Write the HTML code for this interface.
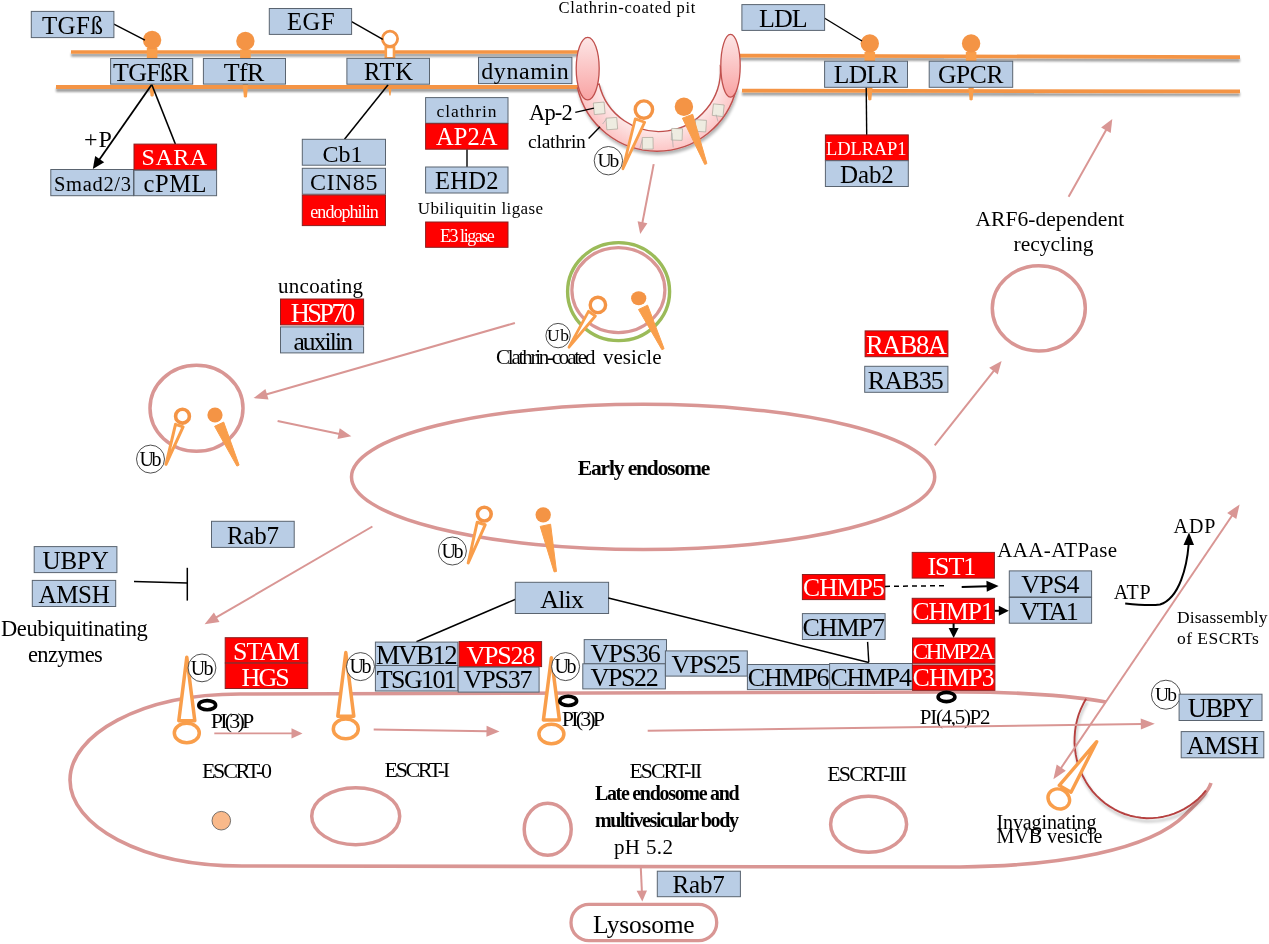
<!DOCTYPE html>
<html><head><meta charset="utf-8"><style>
html,body{margin:0;padding:0;background:#fff;overflow:hidden;}
svg{display:block;will-change:transform;}
text{font-family:"Liberation Serif",serif;}
</style></head><body>
<svg width="1269" height="944" viewBox="0 0 1269 944">
<defs><filter id="sh" x="-5%" y="-50%" width="110%" height="400%"><feGaussianBlur in="SourceAlpha" stdDeviation="1.3"/><feOffset dy="2.8"/><feComponentTransfer><feFuncA type="linear" slope="0.38"/></feComponentTransfer><feMerge><feMergeNode/><feMergeNode in="SourceGraphic"/></feMerge></filter><filter id="sh2" x="-20%" y="-20%" width="140%" height="140%"><feGaussianBlur in="SourceAlpha" stdDeviation="1.5"/><feOffset dx="1" dy="2.5"/><feComponentTransfer><feFuncA type="linear" slope="0.3"/></feComponentTransfer><feMerge><feMergeNode/><feMergeNode in="SourceGraphic"/></feMerge></filter><linearGradient id="pg" x1="0" y1="0" x2="0" y2="1"><stop offset="0" stop-color="#fde6e6"/><stop offset="1" stop-color="#f9a3a3"/></linearGradient><radialGradient id="bg" cx="658" cy="70" r="81" gradientUnits="userSpaceOnUse"><stop offset="0.75" stop-color="#fde8e8"/><stop offset="1" stop-color="#fcc6c6"/></radialGradient></defs>
<g filter="url(#sh)">
<line x1="71.0" y1="52.0" x2="582.0" y2="52.0" stroke="#f49445" stroke-width="3.7"/>
<line x1="56.0" y1="87.0" x2="582.0" y2="87.0" stroke="#f49445" stroke-width="3.8"/>
<line x1="738.0" y1="55.6" x2="1240.0" y2="57.2" stroke="#f49445" stroke-width="3.7"/>
<line x1="742.0" y1="90.6" x2="1240.0" y2="91.4" stroke="#f49445" stroke-width="3.8"/>
</g>
<rect x="146.8" y="48.0" width="10.6" height="10.3" fill="#f99e4b"/>
<circle cx="152.1" cy="39.9" r="9.2" fill="#f49445"/>
<path d="M 149.4,84.3 L 154.8,84.3 L 153.7,95.4 Q 152.1,97.8 150.5,95.4 Z" fill="#f99e4b"/>
<rect x="240.1" y="49.5" width="10.6" height="8.8" fill="#f99e4b"/>
<circle cx="245.4" cy="41.0" r="9.2" fill="#f49445"/>
<path d="M 242.7,84.3 L 248.1,84.3 L 247.0,96.4 Q 245.4,98.8 243.8,96.4 Z" fill="#f99e4b"/>
<rect x="864.5" y="52.0" width="10.6" height="9.4" fill="#f99e4b"/>
<circle cx="869.8" cy="43.4" r="9.2" fill="#f49445"/>
<path d="M 867.1,87.4 L 872.5,87.4 L 871.4,99.2 Q 869.8,101.6 868.2,99.2 Z" fill="#f99e4b"/>
<rect x="965.8" y="52.0" width="10.6" height="9.4" fill="#f99e4b"/>
<circle cx="971.1" cy="43.4" r="9.2" fill="#f49445"/>
<path d="M 968.4,87.4 L 973.8,87.4 L 972.7,99.2 Q 971.1,101.6 969.5,99.2 Z" fill="#f99e4b"/>
<rect x="385.8" y="47" width="8.2" height="11.3" fill="#fff" stroke="#f99e4b" stroke-width="2.6"/>
<circle cx="390" cy="38.8" r="7.6" fill="#fff" stroke="#f49445" stroke-width="2.8"/>
<polygon points="388.6,89 391.4,89 390.6,95.5 389.4,95.5" fill="#f99e4b"/>
<line x1="113.9" y1="24.1" x2="144.9" y2="40.2" stroke="#000" stroke-width="1.4"/>
<line x1="351.6" y1="21.7" x2="382.8" y2="39.3" stroke="#000" stroke-width="1.4"/>
<line x1="824.3" y1="18.0" x2="862.0" y2="41.0" stroke="#000" stroke-width="1.4"/>
<line x1="151.8" y1="84.6" x2="175.4" y2="144.1" stroke="#000" stroke-width="1.5"/>
<line x1="151.8" y1="84.6" x2="99.1" y2="160.0" stroke="#000" stroke-width="1.8"/>
<polygon points="92.8,169.0 95.2,156.0 104.2,162.3" fill="#000"/>
<line x1="388.1" y1="84.7" x2="344.5" y2="139.3" stroke="#000" stroke-width="1.5"/>
<line x1="467.0" y1="149.2" x2="467.0" y2="167.0" stroke="#000" stroke-width="1.4"/>
<line x1="866.2" y1="87.3" x2="866.7" y2="135.0" stroke="#000" stroke-width="1.4"/>
<rect x="31.3" y="11.4" width="82.6" height="26.2" fill="#b9cde5" stroke="#5a6470" stroke-width="1"/>
<text x="41.9" y="33.8" font-size="25" fill="#000" textLength="61.0" lengthAdjust="spacing">TGFß</text>
<rect x="269.3" y="8.5" width="82.3" height="25.9" fill="#b9cde5" stroke="#5a6470" stroke-width="1"/>
<text x="286.9" y="30.3" font-size="24.5" fill="#000" textLength="47.7" lengthAdjust="spacing">EGF</text>
<rect x="110.6" y="58.5" width="82.1" height="25.6" fill="#b9cde5" stroke="#5a6470" stroke-width="1"/>
<text x="113.1" y="80.8" font-size="26" fill="#000" textLength="76.3" lengthAdjust="spacing">TGFßR</text>
<rect x="203.4" y="58.5" width="82.1" height="25.6" fill="#b9cde5" stroke="#5a6470" stroke-width="1"/>
<text x="223.7" y="80.8" font-size="26" fill="#000" textLength="40.7" lengthAdjust="spacing">TfR</text>
<rect x="346.9" y="58.3" width="82.6" height="25.9" fill="#b9cde5" stroke="#5a6470" stroke-width="1"/>
<text x="363.9" y="80.4" font-size="24.5" fill="#000" textLength="49.1" lengthAdjust="spacing">RTK</text>
<rect x="478.5" y="57.3" width="93.4" height="26.3" fill="#b9cde5" stroke="#5a6470" stroke-width="1"/>
<text x="481.2" y="79.0" font-size="24" fill="#000" textLength="87.6" lengthAdjust="spacing">dynamin</text>
<rect x="741.9" y="4.6" width="82.7" height="25.8" fill="#b9cde5" stroke="#5a6470" stroke-width="1"/>
<text x="759.0" y="27.4" font-size="26" fill="#000" textLength="48.7" lengthAdjust="spacing">LDL</text>
<rect x="824.6" y="61.2" width="82.9" height="26.1" fill="#b9cde5" stroke="#5a6470" stroke-width="1"/>
<text x="833.7" y="83.4" font-size="25.5" fill="#000" textLength="64.7" lengthAdjust="spacing">LDLR</text>
<rect x="929.2" y="61.2" width="83.5" height="26.1" fill="#b9cde5" stroke="#5a6470" stroke-width="1"/>
<text x="937.9" y="83.4" font-size="25.5" fill="#000" textLength="65.6" lengthAdjust="spacing">GPCR</text>
<rect x="50.8" y="169.5" width="82.7" height="26.2" fill="#b9cde5" stroke="#5a6470" stroke-width="1"/>
<text x="54.0" y="190.6" font-size="20.5" fill="#000" textLength="77.0" lengthAdjust="spacing">Smad2/3</text>
<rect x="134.0" y="144.1" width="82.6" height="25.7" fill="#ff0000" stroke="#8a2020" stroke-width="1"/>
<text x="141.6" y="165.4" font-size="24" fill="#fff" textLength="65.6" lengthAdjust="spacing">SARA</text>
<rect x="134.0" y="170.3" width="82.6" height="25.4" fill="#b9cde5" stroke="#5a6470" stroke-width="1"/>
<text x="143.6" y="191.9" font-size="24.5" fill="#000" textLength="62.8" lengthAdjust="spacing">cPML</text>
<rect x="302.3" y="139.3" width="83.2" height="25.9" fill="#b9cde5" stroke="#5a6470" stroke-width="1"/>
<text x="322.6" y="161.6" font-size="24" fill="#000" textLength="39.9" lengthAdjust="spacing">Cb1</text>
<rect x="302.3" y="168.3" width="83.2" height="25.9" fill="#b9cde5" stroke="#5a6470" stroke-width="1"/>
<text x="309.9" y="189.9" font-size="24" fill="#000" textLength="67.5" lengthAdjust="spacing">CIN85</text>
<rect x="302.3" y="195.1" width="83.2" height="30.5" fill="#ff0000" stroke="#8a2020" stroke-width="1"/>
<text x="310.3" y="217.8" font-size="18" fill="#fff" textLength="68.5" lengthAdjust="spacing">endophilin</text>
<rect x="425.6" y="97.6" width="82.4" height="25.6" fill="#b9cde5" stroke="#5a6470" stroke-width="1"/>
<text x="436.5" y="117.2" font-size="17.5" fill="#000" textLength="60.1" lengthAdjust="spacing">clathrin</text>
<rect x="425.6" y="123.7" width="82.4" height="25.5" fill="#ff0000" stroke="#8a2020" stroke-width="1"/>
<text x="435.9" y="144.9" font-size="24.5" fill="#fff" textLength="61.6" lengthAdjust="spacing">AP2A</text>
<rect x="425.6" y="167.0" width="82.4" height="26.0" fill="#b9cde5" stroke="#5a6470" stroke-width="1"/>
<text x="435.0" y="188.8" font-size="24.5" fill="#000" textLength="63.4" lengthAdjust="spacing">EHD2</text>
<rect x="425.6" y="222.0" width="82.4" height="25.3" fill="#ff0000" stroke="#8a2020" stroke-width="1"/>
<text x="440.0" y="242.3" font-size="18" fill="#fff" textLength="54.8" lengthAdjust="spacing">E3 ligase</text>
<rect x="825.4" y="134.9" width="82.9" height="25.8" fill="#ff0000" stroke="#8a2020" stroke-width="1"/>
<text x="826.1" y="154.8" font-size="18.5" fill="#fff" textLength="80.4" lengthAdjust="spacing">LDLRAP1</text>
<rect x="825.4" y="160.7" width="82.9" height="25.8" fill="#b9cde5" stroke="#5a6470" stroke-width="1"/>
<text x="840.1" y="182.7" font-size="25" fill="#000" textLength="53.6" lengthAdjust="spacing">Dab2</text>
<text x="558.5" y="13.3" font-size="16.5" fill="#000" textLength="136.9" lengthAdjust="spacing">Clathrin-coated pit</text>
<text x="417.7" y="214.2" font-size="17" fill="#000" textLength="125.4" lengthAdjust="spacing">Ubiliquitin ligase</text>
<text x="83.9" y="147.0" font-size="24" fill="#000" textLength="27.9" lengthAdjust="spacing">+P</text>
<path filter="url(#sh2)" d="M 577.5,88 A 81.6 81.6 0 0 0 736.5,88 L 720.4,66.7 A 61.5 61.5 0 0 1 599.1,84 Z" fill="url(#bg)" stroke="#c0504d" stroke-width="1.4"/>
<rect x="593.8" y="102.5" width="10.8" height="11.6" fill="#eeece1" stroke="#aaa69a" stroke-width="0.7" transform="rotate(-5.2 599.2 108.3)"/>
<rect x="606.4" y="117.8" width="10.8" height="11.6" fill="#eeece1" stroke="#aaa69a" stroke-width="0.7" transform="rotate(-4.5 611.8 123.6)"/>
<rect x="642.3" y="137.5" width="10.8" height="11.6" fill="#eeece1" stroke="#aaa69a" stroke-width="0.7" transform="rotate(-0.8 647.7 143.3)"/>
<rect x="671.5" y="128.6" width="10.8" height="11.6" fill="#eeece1" stroke="#aaa69a" stroke-width="0.7" transform="rotate(2.2 676.9 134.4)"/>
<rect x="695.3" y="120.0" width="10.8" height="11.6" fill="#eeece1" stroke="#aaa69a" stroke-width="0.7" transform="rotate(3.8 700.7 125.8)"/>
<rect x="712.8" y="104.4" width="10.8" height="11.6" fill="#eeece1" stroke="#aaa69a" stroke-width="0.7" transform="rotate(6.0 718.2 110.2)"/>
<line x1="602.6" y1="124" x2="606.4" y2="119" stroke="#a8a8a8" stroke-width="0.7"/>
<line x1="639.8" y1="148.6" x2="642.3" y2="139.5" stroke="#a8a8a8" stroke-width="0.7"/>
<line x1="672" y1="132.9" x2="673.2" y2="147.4" stroke="#a8a8a8" stroke-width="0.7"/>
<line x1="716.1" y1="114.6" x2="718" y2="121.5" stroke="#a8a8a8" stroke-width="0.7"/>
<ellipse cx="587.7" cy="68.6" rx="11.5" ry="31.3" fill="url(#pg)" stroke="#c0504d" stroke-width="1.3"/>
<ellipse cx="730.5" cy="65.8" rx="9.7" ry="31.4" fill="url(#pg)" stroke="#c0504d" stroke-width="1.3"/>
<text x="529.1" y="120.0" font-size="22.5" fill="#000" textLength="43.6" lengthAdjust="spacing">Ap-2</text>
<text x="528.1" y="147.7" font-size="19.5" fill="#000" textLength="57.7" lengthAdjust="spacing">clathrin</text>
<line x1="575.3" y1="112.4" x2="593.9" y2="108.1" stroke="#000" stroke-width="1.4"/>
<line x1="588.6" y1="138.6" x2="600.0" y2="126.7" stroke="#000" stroke-width="1.4"/>
<polygon points="635.3,118.9 644.7,122.2 622.9,168.7" fill="#fff" stroke="#f99e4b" stroke-width="2.8" stroke-linejoin="round"/>
<circle cx="643.9" cy="109.6" r="8.7" fill="#fff" stroke="#f49445" stroke-width="3.4"/>
<polygon points="682.4,118.2 692.7,114.3 706.9,163.6 704.7,164.4" fill="#f99e4b" stroke="#f99e4b" stroke-width="1" stroke-linejoin="round"/>
<ellipse cx="683.9" cy="106.7" rx="9.2" ry="9.2" fill="#f49445"/>
<circle cx="608.4" cy="160.7" r="14.2" fill="#fff" stroke="#222" stroke-width="0.8"/>
<text x="597.4" y="167.1" font-size="19.5" fill="#000" textLength="21.9" lengthAdjust="spacing">Ub</text>
<line x1="653.7" y1="164.1" x2="642.3" y2="223.2" stroke="#d99694" stroke-width="2"/>
<polygon points="640.2,234.0 637.6,221.3 647.4,223.2" fill="#d99694"/>
<ellipse cx="618.6" cy="291.6" rx="51" ry="49" fill="none" stroke="#9bbb59" stroke-width="3.4"/>
<ellipse cx="618.4" cy="290.1" rx="46.5" ry="42.5" fill="none" stroke="#d99694" stroke-width="3.2"/>
<polygon points="588.5,311.3 595.4,316.0 569.0,347.2" fill="#fff" stroke="#f99e4b" stroke-width="2.8" stroke-linejoin="round"/>
<circle cx="597.9" cy="304.9" r="7.7" fill="#fff" stroke="#f49445" stroke-width="3.4"/>
<polygon points="638.5,309.5 647.6,305.2 664.1,348.7 661.9,349.7" fill="#f99e4b" stroke="#f99e4b" stroke-width="1" stroke-linejoin="round"/>
<ellipse cx="638.7" cy="298.2" rx="7.6" ry="7" fill="#f49445"/>
<circle cx="558.1" cy="335.6" r="12.2" fill="#fff" stroke="#222" stroke-width="0.8"/>
<text x="547.1" y="341.4" font-size="17.5" fill="#000" textLength="22.0" lengthAdjust="spacing">Ub</text>
<text x="496.1" y="363.7" font-size="21" fill="#000" textLength="99.3" lengthAdjust="spacing">Clathrin-coated</text>
<text x="602.9" y="363.7" font-size="21" fill="#000" textLength="58.7" lengthAdjust="spacing">vesicle</text>
<text x="278.0" y="293.1" font-size="21" fill="#000" textLength="85.1" lengthAdjust="spacing">uncoating</text>
<rect x="280.5" y="299.0" width="83.1" height="25.9" fill="#ff0000" stroke="#8a2020" stroke-width="1"/>
<text x="290.7" y="322.3" font-size="26.5" fill="#fff" textLength="64.6" lengthAdjust="spacing">HSP70</text>
<rect x="280.5" y="326.9" width="83.1" height="26.0" fill="#b9cde5" stroke="#5a6470" stroke-width="1"/>
<text x="293.4" y="349.6" font-size="25.5" fill="#000" textLength="59.6" lengthAdjust="spacing">auxilin</text>
<line x1="514.9" y1="323.0" x2="266.0" y2="394.5" stroke="#d99694" stroke-width="2"/>
<polygon points="253.5,398.1 265.4,388.9 268.5,399.5" fill="#d99694"/>
<ellipse cx="196.5" cy="408.3" rx="46.5" ry="43" fill="none" stroke="#d99694" stroke-width="3.5"/>
<polygon points="175.5,424.3 183.1,426.9 166.0,464.3" fill="#fff" stroke="#f99e4b" stroke-width="3" stroke-linejoin="round"/>
<circle cx="182.5" cy="416.2" r="6.9" fill="#fff" stroke="#f49445" stroke-width="3.6"/>
<polygon points="214.6,426.3 223.7,422.1 239.1,465.1 236.9,466.1" fill="#f99e4b" stroke="#f99e4b" stroke-width="1" stroke-linejoin="round"/>
<ellipse cx="215.0" cy="415.0" rx="7.6" ry="7.6" fill="#f49445"/>
<circle cx="150.5" cy="459.1" r="14" fill="#fff" stroke="#222" stroke-width="0.8"/>
<text x="139.5" y="465.7" font-size="20" fill="#000" textLength="22.0" lengthAdjust="spacing">Ub</text>
<line x1="277.6" y1="421.0" x2="339.6" y2="433.9" stroke="#d99694" stroke-width="2"/>
<polygon points="351.3,436.3 337.5,439.0 339.7,428.3" fill="#d99694"/>
<ellipse cx="643.1" cy="476.9" rx="291.6" ry="72.6" fill="none" stroke="#d99694" stroke-width="3.5"/>
<text x="577.8" y="474.7" font-size="21.5" fill="#000" textLength="132.6" lengthAdjust="spacing" font-weight="bold">Early endosome</text>
<polygon points="477.2,522.2 485.2,524.8 468.2,563.0" fill="#fff" stroke="#f99e4b" stroke-width="3" stroke-linejoin="round"/>
<circle cx="484.3" cy="514.1" r="6.9" fill="#fff" stroke="#f49445" stroke-width="3.6"/>
<polygon points="540.2,526.4 550.6,524.2 556.5,571.5 554.1,571.9" fill="#f99e4b" stroke="#f99e4b" stroke-width="1" stroke-linejoin="round"/>
<ellipse cx="543.2" cy="514.8" rx="7.7" ry="7.6" fill="#f49445"/>
<circle cx="452.4" cy="551.0" r="14" fill="#fff" stroke="#222" stroke-width="0.8"/>
<text x="441.4" y="557.6" font-size="20" fill="#000" textLength="22.0" lengthAdjust="spacing">Ub</text>
<text x="975.5" y="225.6" font-size="21.5" fill="#000" textLength="148.7" lengthAdjust="spacing">ARF6-dependent</text>
<text x="1013.5" y="250.9" font-size="21.5" fill="#000" textLength="80.0" lengthAdjust="spacing">recycling</text>
<line x1="1068.6" y1="196.7" x2="1106.4" y2="129.5" stroke="#d99694" stroke-width="2"/>
<polygon points="1112.3,119.0 1110.7,133.0 1101.1,127.6" fill="#d99694"/>
<ellipse cx="1038.8" cy="308.3" rx="46.5" ry="42.6" fill="none" stroke="#d99694" stroke-width="3.5"/>
<rect x="865.1" y="330.9" width="82.8" height="25.8" fill="#ff0000" stroke="#8a2020" stroke-width="1"/>
<text x="865.9" y="353.6" font-size="26.5" fill="#fff" textLength="81.0" lengthAdjust="spacing">RAB8A</text>
<rect x="864.7" y="366.3" width="83.2" height="26.0" fill="#b9cde5" stroke="#5a6470" stroke-width="1"/>
<text x="867.8" y="388.6" font-size="26" fill="#000" textLength="76.0" lengthAdjust="spacing">RAB35</text>
<line x1="934.7" y1="445.4" x2="994.2" y2="370.3" stroke="#d99694" stroke-width="2"/>
<polygon points="1001.6,360.9 997.8,374.5 989.2,367.7" fill="#d99694"/>
<rect x="211.5" y="521.3" width="82.7" height="26.1" fill="#b9cde5" stroke="#5a6470" stroke-width="1"/>
<text x="226.9" y="544.3" font-size="25" fill="#000" textLength="52.0" lengthAdjust="spacing">Rab7</text>
<rect x="34.2" y="546.6" width="82.7" height="26.0" fill="#b9cde5" stroke="#5a6470" stroke-width="1"/>
<text x="42.5" y="569.1" font-size="25" fill="#000" textLength="66.2" lengthAdjust="spacing">UBPY</text>
<rect x="32.3" y="580.4" width="83.4" height="26.1" fill="#b9cde5" stroke="#5a6470" stroke-width="1"/>
<text x="38.4" y="602.7" font-size="25" fill="#000" textLength="71.4" lengthAdjust="spacing">AMSH</text>
<line x1="134.0" y1="581.5" x2="187.3" y2="583.0" stroke="#000" stroke-width="1.5"/>
<line x1="187.3" y1="567.8" x2="187.3" y2="600.6" stroke="#000" stroke-width="1.5"/>
<text x="1.0" y="635.6" font-size="22.5" fill="#000" textLength="146.8" lengthAdjust="spacing">Deubiquitinating</text>
<text x="28.0" y="661.8" font-size="22.5" fill="#000" textLength="74.8" lengthAdjust="spacing">enzymes</text>
<line x1="372.4" y1="526.5" x2="215.8" y2="617.7" stroke="#d99694" stroke-width="2"/>
<polygon points="204.6,624.2 213.9,612.4 219.5,621.9" fill="#d99694"/>
<path d="M 1106,702 C 1060,694 1000,692 960,692 L 240,694 C 140,694 70,735 70,780 C 70,825 140,866 242,866 L 960,867 C 1060,866 1150,850 1185,815 C 1200,800 1208,792 1211,783" fill="none" stroke="#d99694" stroke-width="3.6"/>
<polyline points="1086.1,698.8 1083.3,703.8 1080.8,709.1 1078.7,714.5 1077.1,720.1 1075.8,725.8 1075.0,731.6 1074.6,737.4 1074.5,743.2 1075.0,749.1 1075.8,754.9 1077.0,760.6 1078.7,766.1 1080.7,771.6 1083.2,776.8 1086.0,781.9 1089.1,786.7 1092.6,791.3 1096.5,795.6 1100.6,799.5 1105.0,803.2 1109.6,806.4 1114.5,809.3 1119.5,811.9 1124.7,814.0 1130.1,815.7 1135.6,816.9 1141.1,817.8 1146.7,818.2 1152.3,818.1 1157.9,817.6 1163.4,816.7 1168.8,815.4 1174.2,813.6 1179.4,811.4 1184.4,808.9 1189.2,805.9 1193.8,802.5 1198.2,798.9 1202.2,794.8 1206.0,790.5" fill="none" stroke="#b5413f" stroke-width="1.9" stroke-linejoin="round" filter="url(#sh2)"/>
<rect x="225.2" y="637.7" width="82.5" height="25.1" fill="#ff0000" stroke="#8a2020" stroke-width="1"/>
<text x="233.1" y="659.8" font-size="26" fill="#fff" textLength="66.7" lengthAdjust="spacing">STAM</text>
<rect x="225.2" y="663.2" width="82.5" height="25.3" fill="#ff0000" stroke="#8a2020" stroke-width="1"/>
<text x="241.6" y="685.5" font-size="26" fill="#fff" textLength="48.2" lengthAdjust="spacing">HGS</text>
<polygon points="186.8,657.3 178.8,720.8 194.8,720.8" fill="#fff" stroke="#f99e4b" stroke-width="3.5" stroke-linejoin="round"/>
<ellipse cx="186.8" cy="733.0" rx="12.5" ry="9.8" fill="#fff" stroke="#f99e4b" stroke-width="3.5"/>
<circle cx="202.0" cy="667.9" r="13.9" fill="#fff" stroke="#222" stroke-width="0.8"/>
<text x="190.7" y="674.5" font-size="20" fill="#000" textLength="22.7" lengthAdjust="spacing">Ub</text>
<ellipse cx="207.2" cy="705.2" rx="8.4" ry="4.6" fill="none" stroke="#000" stroke-width="3.6"/>
<text x="210.8" y="727.6" font-size="22" fill="#000" textLength="43.5" lengthAdjust="spacing">PI(3)P</text>
<line x1="214.3" y1="733.4" x2="292.5" y2="733.4" stroke="#d99694" stroke-width="1.9"/>
<polygon points="302.5,733.4 291.5,738.6 291.5,728.2" fill="#d99694"/>
<text x="201.9" y="777.7" font-size="22" fill="#000" textLength="70.1" lengthAdjust="spacing">ESCRT-0</text>
<circle cx="221.3" cy="820.7" r="9.3" fill="#f9b98a" stroke="#555" stroke-width="0.8"/>
<ellipse cx="355.7" cy="816.2" rx="44" ry="28.5" fill="none" stroke="#d99694" stroke-width="3.5"/>
<line x1="515.6" y1="599.2" x2="416.4" y2="641.7" stroke="#000" stroke-width="1.5"/>
<rect x="515.3" y="582.3" width="93.3" height="31.2" fill="#b9cde5" stroke="#5a6470" stroke-width="1"/>
<text x="540.2" y="607.8" font-size="26" fill="#000" textLength="43.8" lengthAdjust="spacing">Alix</text>
<polygon points="345.8,652.6 337.8,716.2 353.8,716.2" fill="#fff" stroke="#f99e4b" stroke-width="3.5" stroke-linejoin="round"/>
<ellipse cx="345.8" cy="728.9" rx="12.5" ry="9.8" fill="#fff" stroke="#f99e4b" stroke-width="3.5"/>
<circle cx="360.5" cy="666.6" r="14" fill="#fff" stroke="#222" stroke-width="0.8"/>
<text x="349.5" y="673.2" font-size="20" fill="#000" textLength="22.0" lengthAdjust="spacing">Ub</text>
<rect x="375.4" y="642.1" width="82.5" height="23.4" fill="#b9cde5" stroke="#5a6470" stroke-width="1"/>
<text x="376.0" y="664.0" font-size="26.8" fill="#000" textLength="81.7" lengthAdjust="spacing">MVB12</text>
<rect x="375.4" y="665.5" width="82.5" height="25.5" fill="#b9cde5" stroke="#5a6470" stroke-width="1"/>
<text x="376.8" y="688.2" font-size="26" fill="#000" textLength="80.0" lengthAdjust="spacing">TSG101</text>
<rect x="459.1" y="641.6" width="82.5" height="25.0" fill="#ff0000" stroke="#8a2020" stroke-width="1"/>
<text x="466.5" y="664.0" font-size="26" fill="#fff" textLength="68.7" lengthAdjust="spacing">VPS28</text>
<rect x="458.2" y="667.2" width="80.9" height="24.9" fill="#b9cde5" stroke="#5a6470" stroke-width="1"/>
<text x="463.6" y="688.2" font-size="26" fill="#000" textLength="68.8" lengthAdjust="spacing">VPS37</text>
<line x1="373.7" y1="729.6" x2="487.5" y2="731.2" stroke="#d99694" stroke-width="2"/>
<polygon points="499.5,731.4 486.4,736.7 486.6,725.7" fill="#d99694"/>
<text x="384.6" y="777.2" font-size="22" fill="#000" textLength="65.4" lengthAdjust="spacing">ESCRT-I</text>
<polygon points="551.4,657.7 543.4,720.0 559.4,720.0" fill="#fff" stroke="#f99e4b" stroke-width="3.5" stroke-linejoin="round"/>
<ellipse cx="551.4" cy="734.0" rx="12.5" ry="9.8" fill="#fff" stroke="#f99e4b" stroke-width="3.5"/>
<circle cx="565.6" cy="666.6" r="14" fill="#fff" stroke="#222" stroke-width="0.8"/>
<text x="554.6" y="673.2" font-size="20" fill="#000" textLength="22.0" lengthAdjust="spacing">Ub</text>
<ellipse cx="568.2" cy="700.9" rx="8.4" ry="4.6" fill="none" stroke="#000" stroke-width="3.6"/>
<text x="561.8" y="725.6" font-size="22" fill="#000" textLength="43.2" lengthAdjust="spacing">PI(3)P</text>
<rect x="584.2" y="639.6" width="82.3" height="24.2" fill="#b9cde5" stroke="#5a6470" stroke-width="1"/>
<text x="590.6" y="661.5" font-size="26" fill="#000" textLength="70.2" lengthAdjust="spacing">VPS36</text>
<rect x="582.8" y="663.8" width="82.6" height="25.1" fill="#b9cde5" stroke="#5a6470" stroke-width="1"/>
<text x="590.6" y="685.6" font-size="26" fill="#000" textLength="68.1" lengthAdjust="spacing">VPS22</text>
<rect x="665.4" y="650.9" width="81.9" height="25.2" fill="#b9cde5" stroke="#5a6470" stroke-width="1"/>
<text x="671.5" y="672.6" font-size="26" fill="#000" textLength="69.5" lengthAdjust="spacing">VPS25</text>
<rect x="747.4" y="664.5" width="82.2" height="25.1" fill="#b9cde5" stroke="#5a6470" stroke-width="1"/>
<text x="747.8" y="685.8" font-size="26" fill="#000" textLength="81.8" lengthAdjust="spacing">CHMP6</text>
<rect x="829.6" y="663.5" width="82.7" height="25.9" fill="#b9cde5" stroke="#5a6470" stroke-width="1"/>
<text x="830.5" y="685.8" font-size="26" fill="#000" textLength="81.4" lengthAdjust="spacing">CHMP4</text>
<line x1="608.3" y1="598.1" x2="868.8" y2="662.4" stroke="#000" stroke-width="1.5"/>
<line x1="867.6" y1="641.9" x2="868.8" y2="662.4" stroke="#000" stroke-width="1.4"/>
<rect x="802.4" y="613.6" width="82.7" height="25.9" fill="#b9cde5" stroke="#5a6470" stroke-width="1"/>
<text x="802.6" y="635.5" font-size="26" fill="#000" textLength="82.3" lengthAdjust="spacing">CHMP7</text>
<text x="629.4" y="777.7" font-size="21.7" fill="#000" textLength="72.9" lengthAdjust="spacing">ESCRT-II</text>
<text x="594.9" y="800.4" font-size="20" fill="#000" textLength="144.7" lengthAdjust="spacing" font-weight="bold">Late endosome and</text>
<text x="594.9" y="826.6" font-size="20" fill="#000" textLength="144.0" lengthAdjust="spacing" font-weight="bold">multivesicular body</text>
<text x="614.0" y="853.8" font-size="21" fill="#000" textLength="58.9" lengthAdjust="spacing">pH 5.2</text>
<ellipse cx="547.7" cy="829.3" rx="23.5" ry="26" fill="none" stroke="#d99694" stroke-width="3.5"/>
<rect x="802.4" y="574.5" width="82.5" height="25.1" fill="#ff0000" stroke="#8a2020" stroke-width="1"/>
<text x="803.0" y="596.3" font-size="25.5" fill="#fff" textLength="81.8" lengthAdjust="spacing">CHMP5</text>
<line x1="885" y1="586.4" x2="948" y2="585.6" stroke="#000" stroke-width="1.5" stroke-dasharray="5,4"/>
<line x1="961.7" y1="587.0" x2="987.6" y2="586.2" stroke="#000" stroke-width="2"/>
<polygon points="998.6,585.9 986.8,591.8 986.4,580.8" fill="#000"/>
<rect x="912.2" y="552.4" width="82.2" height="25.7" fill="#ff0000" stroke="#8a2020" stroke-width="1"/>
<text x="927.4" y="575.3" font-size="26" fill="#fff" textLength="48.8" lengthAdjust="spacing">IST1</text>
<text x="997.3" y="556.6" font-size="21" fill="#000" textLength="119.8" lengthAdjust="spacing">AAA-ATPase</text>
<rect x="1009.3" y="570.9" width="82.3" height="26.0" fill="#b9cde5" stroke="#5a6470" stroke-width="1"/>
<text x="1021.3" y="593.1" font-size="26" fill="#000" textLength="58.3" lengthAdjust="spacing">VPS4</text>
<rect x="1009.3" y="597.5" width="82.3" height="25.7" fill="#b9cde5" stroke="#5a6470" stroke-width="1"/>
<text x="1019.7" y="619.9" font-size="26" fill="#000" textLength="59.1" lengthAdjust="spacing">VTA1</text>
<rect x="912.2" y="598.3" width="82.2" height="25.3" fill="#ff0000" stroke="#8a2020" stroke-width="1"/>
<text x="912.4" y="620.3" font-size="25.5" fill="#fff" textLength="81.3" lengthAdjust="spacing">CHMP1</text>
<line x1="994.8" y1="610.8" x2="999.8" y2="610.8" stroke="#000" stroke-width="2"/>
<polygon points="1008.8,610.8 998.8,615.8 998.8,605.8" fill="#000"/>
<line x1="953.6" y1="623.5" x2="953.6" y2="629.0" stroke="#000" stroke-width="2"/>
<polygon points="953.6,638.0 948.6,628.0 958.6,628.0" fill="#000"/>
<rect x="912.5" y="638.0" width="82.4" height="25.3" fill="#ff0000" stroke="#8a2020" stroke-width="1"/>
<text x="912.7" y="659.2" font-size="23" fill="#fff" textLength="82.0" lengthAdjust="spacing">CHMP2A</text>
<rect x="912.5" y="665.0" width="82.4" height="25.3" fill="#ff0000" stroke="#8a2020" stroke-width="1"/>
<text x="912.7" y="685.7" font-size="25.5" fill="#fff" textLength="81.8" lengthAdjust="spacing">CHMP3</text>
<ellipse cx="946.5" cy="697.0" rx="8.4" ry="4.6" fill="none" stroke="#000" stroke-width="3.6"/>
<text x="919.8" y="723.7" font-size="21" fill="#000" textLength="70.7" lengthAdjust="spacing">PI(4,5)P2</text>
<text x="827.2" y="780.6" font-size="22" fill="#000" textLength="80.0" lengthAdjust="spacing">ESCRT-III</text>
<ellipse cx="868.6" cy="824.3" rx="38" ry="28" fill="none" stroke="#d99694" stroke-width="3.5"/>
<line x1="647.7" y1="730.8" x2="1141.8" y2="724.0" stroke="#d99694" stroke-width="2"/>
<polygon points="1154.8,723.8 1140.9,729.5 1140.7,718.5" fill="#d99694"/>
<text x="1173.6" y="533.1" font-size="20" fill="#000" textLength="41.8" lengthAdjust="spacing">ADP</text>
<text x="1113.8" y="599.0" font-size="20" fill="#000" textLength="36.7" lengthAdjust="spacing">ATP</text>
<path d="M 1125.2,603.4 C 1140,605 1152,605.5 1160,604.5 C 1180,598 1187,565 1188.6,545" fill="none" stroke="#000" stroke-width="2"/>
<polygon points="1189,532.5 1183.5,545 1194,545" fill="#000"/>
<line x1="1146.6" y1="641.7" x2="1232.3" y2="515.2" stroke="#d99694" stroke-width="2"/>
<polygon points="1239.6,504.4 1236.3,519.1 1227.2,512.9" fill="#d99694"/>
<text x="1176.9" y="623.2" font-size="17.5" fill="#000" textLength="90.6" lengthAdjust="spacing">Disassembly</text>
<text x="1176.9" y="644.1" font-size="17.5" fill="#000" textLength="81.8" lengthAdjust="spacing">of ESCRTs</text>
<circle cx="1165.9" cy="694.7" r="14.5" fill="#fff" stroke="#222" stroke-width="0.8"/>
<text x="1155.0" y="701.1" font-size="19.5" fill="#000" textLength="21.9" lengthAdjust="spacing">Ub</text>
<rect x="1179.1" y="694.2" width="82.9" height="26.3" fill="#b9cde5" stroke="#5a6470" stroke-width="1"/>
<text x="1187.8" y="716.8" font-size="26.5" fill="#000" textLength="66.1" lengthAdjust="spacing">UBPY</text>
<rect x="1181.2" y="731.6" width="82.6" height="26.2" fill="#b9cde5" stroke="#5a6470" stroke-width="1"/>
<text x="1186.6" y="754.0" font-size="26" fill="#000" textLength="72.1" lengthAdjust="spacing">AMSH</text>
<line x1="1146.6" y1="641.7" x2="1060.7" y2="768.5" stroke="#d99694" stroke-width="2"/>
<polygon points="1053.4,779.3 1056.7,764.6 1065.8,770.8" fill="#d99694"/>
<ellipse cx="1058.8" cy="798.9" rx="11.2" ry="9.6" fill="#fff" stroke="#f99e4b" stroke-width="3.4" transform="rotate(30 1058.8 798.9)"/>
<polygon points="1096.7,741.7 1059.3,785.4 1071,792.2" fill="#fff" stroke="#f99e4b" stroke-width="3.4" stroke-linejoin="round"/>
<text x="996.5" y="829.2" font-size="20" fill="#000" textLength="99.9" lengthAdjust="spacing">Invaginating</text>
<text x="996.5" y="842.6" font-size="20" fill="#000" textLength="105.9" lengthAdjust="spacing">MVB vesicle</text>
<line x1="640.8" y1="867.8" x2="641.9" y2="891.6" stroke="#d99694" stroke-width="2"/>
<polygon points="642.3,901.6 636.6,890.8 647.0,890.4" fill="#d99694"/>
<rect x="657.3" y="871.2" width="83.1" height="25.5" fill="#b9cde5" stroke="#5a6470" stroke-width="1"/>
<text x="672.6" y="893.0" font-size="25" fill="#000" textLength="52.1" lengthAdjust="spacing">Rab7</text>
<rect x="571" y="904.4" width="145.7" height="36.3" rx="18" fill="#fff" stroke="#d99694" stroke-width="3.3"/>
<text x="592.9" y="932.6" font-size="25.5" fill="#000" textLength="101.8" lengthAdjust="spacing">Lysosome</text>
</svg></body></html>
